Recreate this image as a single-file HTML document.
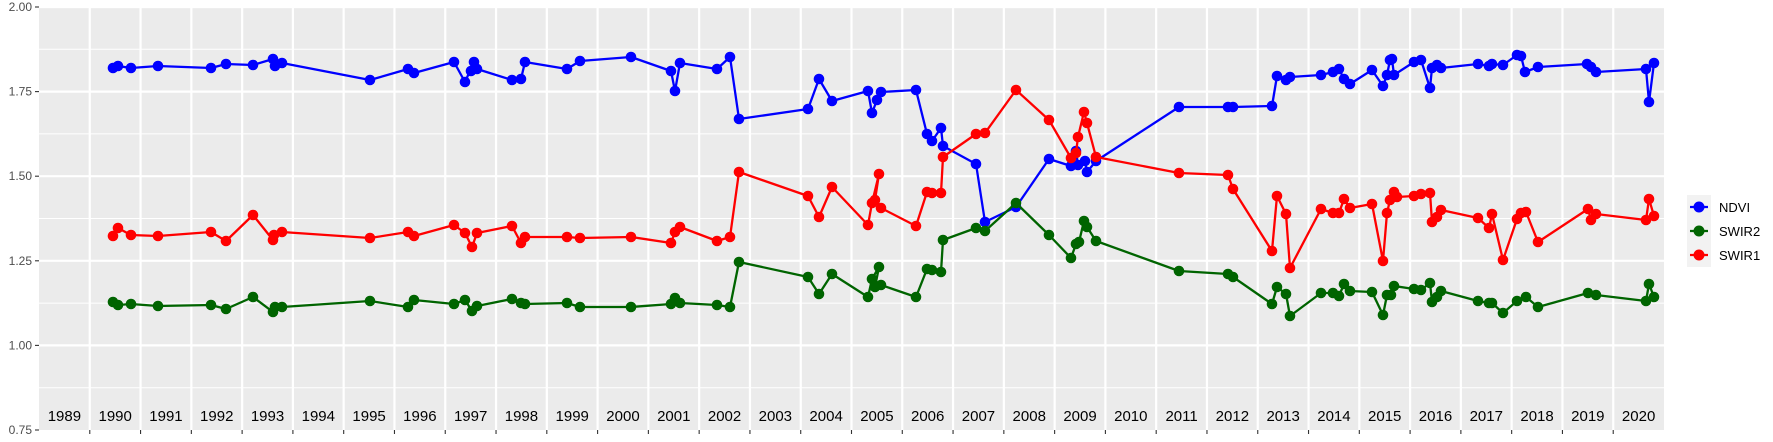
<!DOCTYPE html>
<html><head><meta charset="utf-8"><style>
body{margin:0;background:#fff;}
svg{display:block;font-family:"Liberation Sans",sans-serif;}
</style></head><body>
<svg width="1773" height="442" viewBox="0 0 1773 442">
<rect x="39" y="7" width="1625" height="423" fill="#EBEBEB"/>
<g stroke="#fff" stroke-width="1">
<line x1="39" x2="1664" y1="49.3" y2="49.3"/><line x1="39" x2="1664" y1="133.9" y2="133.9"/><line x1="39" x2="1664" y1="218.5" y2="218.5"/><line x1="39" x2="1664" y1="303.1" y2="303.1"/><line x1="39" x2="1664" y1="387.7" y2="387.7"/>
</g>
<g stroke="#fff" stroke-width="2.2">
<line x1="39" x2="1664" y1="7" y2="7"/><line x1="39" x2="1664" y1="91.6" y2="91.6"/><line x1="39" x2="1664" y1="176.2" y2="176.2"/><line x1="39" x2="1664" y1="260.8" y2="260.8"/><line x1="39" x2="1664" y1="345.4" y2="345.4"/>
</g>
<g id="vg" stroke="#fff" stroke-width="2.2"></g>
<g id="ticks" stroke="#333" stroke-width="1.1"></g>
<g id="yl" font-size="12" fill="#4d4d4d" text-anchor="end">
<text x="32" y="11">2.00</text><text x="32" y="95.6">1.75</text><text x="32" y="180.2">1.50</text><text x="32" y="264.8">1.25</text><text x="32" y="349.4">1.00</text><text x="32" y="434">0.75</text>
</g>
<g stroke="#333" stroke-width="1.1"><line x1="35" x2="39" y1="7" y2="7"/><line x1="35" x2="39" y1="91.6" y2="91.6"/><line x1="35" x2="39" y1="176.2" y2="176.2"/><line x1="35" x2="39" y1="260.8" y2="260.8"/><line x1="35" x2="39" y1="345.4" y2="345.4"/><line x1="35" x2="39" y1="430" y2="430"/></g>
<g id="years" font-size="15" fill="#000" text-anchor="middle"></g>
<g id="series"></g>
<rect x="1687" y="195" width="24" height="72" fill="#F2F2F2"/>
<g stroke-width="2.3"><line x1="1690" x2="1708" y1="207" y2="207" stroke="#0000FF"/><line x1="1690" x2="1708" y1="231" y2="231" stroke="#006400"/><line x1="1690" x2="1708" y1="255" y2="255" stroke="#FF0000"/></g>
<circle cx="1699" cy="207" r="5.5" fill="#0000FF"/><circle cx="1699" cy="231" r="5.5" fill="#006400"/><circle cx="1699" cy="255" r="5.5" fill="#FF0000"/>
<g font-size="13" fill="#000"><text x="1719" y="212">NDVI</text><text x="1719" y="236">SWIR2</text><text x="1719" y="260">SWIR1</text></g>
</svg>
<script>
var NS="http://www.w3.org/2000/svg";
function el(p,t,a,txt){var e=document.createElementNS(NS,t);for(var k in a)e.setAttribute(k,a[k]);if(txt)e.textContent=txt;p.appendChild(e);return e;}
var vg=document.getElementById('vg'),tk=document.getElementById('ticks'),yr=document.getElementById('years');
var w=1625/32;
for(var n=1;n<32;n++){var x=39+n*w;el(vg,'line',{x1:x,x2:x,y1:7,y2:430});el(tk,'line',{x1:x,x2:x,y1:430,y2:434});}
for(var n=0;n<32;n++){el(yr,'text',{x:39+(n+0.5)*w,y:421},String(1989+n));}
var ndvi=[[113,68],[118,66],[131,68],[158,66],[211,68],[226,64],[253,65],[273,59],[275,66],[282,63],[370,80],[408,69],[414,73],[454,62],[465,82],[474,62],[471,71],[477,69],[512,80],[521,79],[525,62],[567,69],[580,61],[631,57],[671,71],[675,91],[680,63],[717,69],[730,57],[739,119],[808,109],[819,79],[832,101],[868,91],[872,113],[877,100],[881,92],[916,90],[927,134],[932,141],[941,128],[943,146],[976,164],[985,222],[1016,207],[1049,159],[1071,166],[1076,151],[1078,165],[1085,161],[1087,172],[1096,161],[1179,107],[1228,107],[1233,107],[1272,106],[1277,76],[1286,80],[1290,77],[1321,75],[1333,72],[1339,69],[1344,79],[1350,84],[1372,70],[1383,86],[1387,75],[1390,60],[1392,59],[1394,75],[1414,62],[1421,60],[1430,88],[1432,68],[1437,65],[1441,68],[1478,64],[1489,66],[1492,64],[1503,65],[1517,55],[1521,56],[1525,72],[1538,67],[1587,64],[1591,67],[1596,72],[1646,69],[1649,102],[1654,63]];
var s1=[[113,236],[118,228],[131,235],[158,236],[211,232],[226,241],[253,215],[273,240],[274,235],[282,232],[370,238],[408,232],[414,236],[454,225],[465,233],[472,247],[477,233],[512,226],[521,243],[525,237],[567,237],[580,238],[631,237],[671,243],[675,232],[680,227],[717,241],[730,237],[739,172],[808,196],[819,217],[832,187],[868,225],[872,203],[879,174],[875,200],[881,208],[916,226],[927,192],[932,193],[941,193],[943,157],[976,134],[985,133],[1016,90],[1049,120],[1071,158],[1076,153],[1078,137],[1084,112],[1087,123],[1096,157],[1179,173],[1228,175],[1233,189],[1272,251],[1277,196],[1286,214],[1290,268],[1321,209],[1333,213],[1339,213],[1344,199],[1350,208],[1372,204],[1383,261],[1387,213],[1390,200],[1394,192],[1397,197],[1414,196],[1421,194],[1430,193],[1432,222],[1437,217],[1441,210],[1478,218],[1489,228],[1492,214],[1503,260],[1517,219],[1521,213],[1526,212],[1538,242],[1588,209],[1591,220],[1596,214],[1646,220],[1649,199],[1654,216]];
var s2=[[113,302],[118,305],[131,304],[158,306],[211,305],[226,309],[253,297],[273,312],[275,307],[282,307],[370,301],[408,307],[414,300],[454,304],[465,300],[472,311],[477,306],[512,299],[521,303],[525,304],[567,303],[580,307],[631,307],[671,304],[675,298],[680,303],[717,305],[730,307],[739,262],[808,277],[819,294],[832,274],[868,297],[872,279],[879,267],[875,287],[881,285],[916,297],[927,269],[932,270],[941,272],[943,240],[976,228],[985,231],[1016,203],[1049,235],[1071,258],[1076,244],[1079,242],[1084,221],[1087,227],[1096,241],[1179,271],[1228,274],[1233,277],[1272,304],[1277,287],[1286,294],[1290,316],[1321,293],[1333,293],[1339,296],[1344,284],[1350,291],[1372,292],[1383,315],[1387,295],[1391,295],[1394,286],[1414,289],[1421,290],[1430,283],[1432,302],[1437,297],[1441,291],[1478,301],[1489,303],[1492,303],[1503,313],[1517,301],[1526,297],[1538,307],[1588,293],[1596,295],[1646,301],[1649,284],[1654,297]];
var sg=document.getElementById('series');
[[ndvi,'#0000FF'],[s2,'#006400'],[s1,'#FF0000']].forEach(function(s){
 el(sg,'polyline',{points:s[0].map(function(p){return p.join(',')}).join(' '),fill:'none',stroke:s[1],'stroke-width':2.3,'stroke-linejoin':'round'});
 s[0].forEach(function(p){el(sg,'circle',{cx:p[0],cy:p[1],r:5.3,fill:s[1]});});
});
</script>
</body></html>
